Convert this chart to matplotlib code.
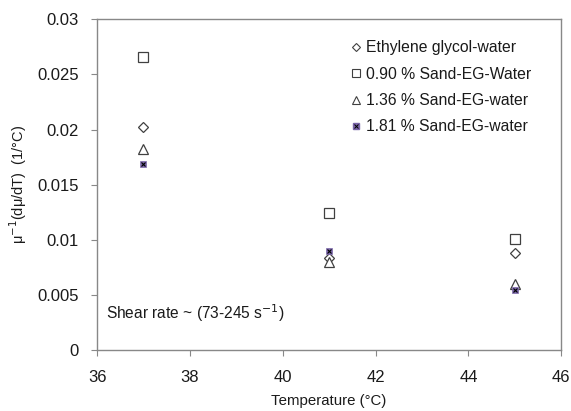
import numpy as np
import matplotlib
matplotlib.use("Agg")
import matplotlib.pyplot as plt
from matplotlib.lines import Line2D

plt.rcParams["font.family"] = ["Liberation Sans", "DejaVu Sans"]

temps = [37, 41, 45]
eg_water = [0.0202, 0.0084, 0.0088]
sand_090 = [0.0266, 0.0124, 0.0101]
sand_136 = [0.0182, 0.0080, 0.0060]
sand_181 = [0.0169, 0.0090, 0.0055]

labels = ["Ethylene glycol-water", "0.90 % Sand-EG-Water",
          "1.36 % Sand-EG-water", "1.81 % Sand-EG-water"]

fig = plt.figure(figsize=(5.71, 4.11), dpi=100)
ax = fig.add_axes([0.170, 0.148, 0.813, 0.805])

edge = "#404040"
txt = "#1a1a1a"
ax.plot(temps, eg_water, ls="none", marker="D", ms=5, mfc="white", mec=edge, mew=0.9)
ax.plot(temps, sand_090, ls="none", marker="s", ms=7, mfc="white", mec=edge, mew=0.9)
ax.plot(temps, sand_136, ls="none", marker="^", ms=7, mfc="white", mec=edge, mew=0.9)
ax.plot(temps, sand_181, ls="none", marker="s", ms=4.5, mfc="#7a66a8", mec="#7a66a8", mew=0.5)
ax.plot(temps, sand_181, ls="none", marker="x", ms=3.2, mec="black", mew=0.8)

# legend proxies
handles = [
    Line2D([0], [0], ls="none", marker="D", ms=4, mfc="white", mec=edge, mew=0.8),
    Line2D([0], [0], ls="none", marker="s", ms=5.5, mfc="white", mec=edge, mew=0.8),
    Line2D([0], [0], ls="none", marker="^", ms=5.5, mfc="white", mec=edge, mew=0.8),
    (Line2D([0], [0], ls="none", marker="s", ms=4, mfc="#7a66a8", mec="#7a66a8"),
     Line2D([0], [0], ls="none", marker="x", ms=2.8, mec="black", mew=0.7)),
]
leg = ax.legend(handles, labels, loc="upper left", bbox_to_anchor=(0.535, 0.955),
                frameon=False, fontsize=11.3, handlelength=0.6, handletextpad=0.3,
                labelspacing=0.72, borderaxespad=0)
for t in leg.get_texts():
    t.set_color(txt)

ax.text(36.2, 0.0034, "Shear rate ~ (73-245 s$^{-1}$)", fontsize=11.2,
        va="center", ha="left", color=txt)

ax.set_xlim(36, 46)
ax.set_ylim(0, 0.03)
ax.set_xticks([36, 38, 40, 42, 44, 46])
ax.set_yticks([0, 0.005, 0.01, 0.015, 0.02, 0.025, 0.03])
ax.set_yticklabels(["0", "0.005", "0.01", "0.015", "0.02", "0.025", "0.03"])
ax.tick_params(direction="out", length=4, width=0.8, color="#888888",
               labelsize=12, labelcolor=txt)
ax.tick_params(axis="y", pad=9)
ax.tick_params(axis="x", pad=10)
for s in ax.spines.values():
    s.set_color("#888888")
    s.set_linewidth(1.0)

ax.set_xlabel("Temperature (°C)", fontsize=10.8, labelpad=7, color=txt)
ax.set_ylabel("μ$^{-1}$(dμ/dT)  (1/°C)", fontsize=10.5, labelpad=6, color=txt)

fig.savefig("out.png", dpi=100)
